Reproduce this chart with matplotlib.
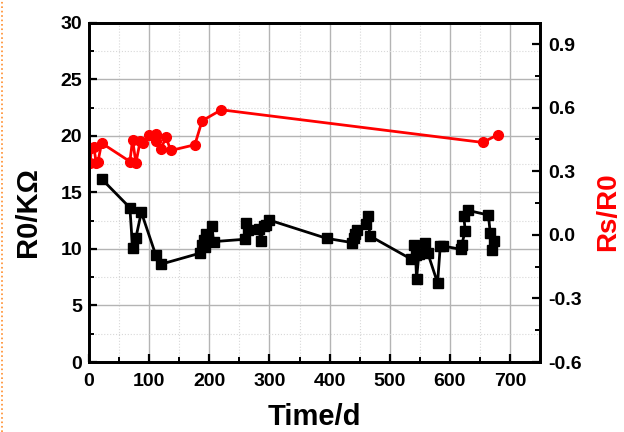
'''
    R0 and Rs/R0 versus time
'''
import matplotlib
matplotlib.use('Agg')
import matplotlib.pyplot as plt
from matplotlib.lines import Line2D
from matplotlib.ticker import MultipleLocator, FormatStrFormatter

# R0 (left axis, black squares)
r0_days = [21, 68, 72.5, 78, 87, 111, 119.5, 184, 188, 190.5, 193, 195, 204.5, 207,
           259, 261.5, 264.5, 282, 286, 290.5, 295, 299, 395, 438, 440.5, 443, 446,
           461, 464, 467, 536, 540, 543, 544.5, 548.5, 559, 563, 579.5, 584, 588,
           618, 619.5, 625.5, 623, 629.5, 664, 667, 672.5, 670]
r0_values = [16.2, 13.65, 10.06, 11.0, 13.25, 9.47, 8.65, 9.62, 10.35, 10.8, 10.15,
             11.33, 12.06, 10.65, 10.86, 12.27, 11.68, 11.74, 10.74, 12.04, 12.12,
             12.57, 10.94, 10.56, 10.94, 11.33, 11.68, 12.18, 12.92, 11.15, 9.09,
             10.35, 9.47, 7.35, 9.56, 10.5, 9.67, 7.0, 10.27, 10.27, 9.97, 10.35,
             11.6, 12.92, 13.42, 13.0, 11.44, 10.74, 9.91]

# Rs/R0 (right axis, red circles)
rs_days = [2, 4, 8, 12, 15, 21, 68, 72.5, 78, 85, 89.5, 99, 111, 111, 119.5, 128,
           136, 176, 188, 220, 654.5, 679.5]
rs_values = [0.34, 0.41, 0.415, 0.34, 0.346, 0.433, 0.346, 0.449, 0.339, 0.441,
             0.433, 0.472, 0.476, 0.441, 0.405, 0.46, 0.398, 0.425, 0.538, 0.59,
             0.436, 0.472]

x_ticks = [0, 100, 200, 300, 400, 500, 600, 700]
rs_ticks = [-0.6, -0.3, 0.0, 0.3, 0.6, 0.9]

plt.rcParams['font.family'] = ['Liberation Sans', 'DejaVu Sans']
plt.rcParams['font.weight'] = 'bold'
plt.rcParams['axes.unicode_minus'] = False


def style_axis(axis):
    '''Thick frame and inward ticks'''
    for spine in axis.spines.values():
        spine.set_linewidth(2)
    axis.tick_params(which='major', direction='in', length=6, width=1.6,
                     labelsize=14)
    axis.tick_params(which='minor', direction='in', length=3.5, width=1.4)


def plotting_graph():
    '''Plotting both series on twin axes'''
    fig = plt.figure(figsize=(6.24, 4.32), dpi=100)
    ax = fig.add_axes([0.1426, 0.162, 0.723, 0.785])
    ax.set_xlim(0, 750)
    ax.set_ylim(0, 30)
    ax.set_xticks(x_ticks)
    ax.xaxis.set_minor_locator(MultipleLocator(50))
    ax.yaxis.set_major_locator(MultipleLocator(5))
    ax.yaxis.set_minor_locator(MultipleLocator(2.5))
    ax.grid(which='major', color='#b4b4b4', lw=1)
    ax.grid(which='minor', color='#d8d8d8', lw=0.8, ls=':')
    ax.set_axisbelow(True)
    ax.plot(r0_days, r0_values, color='black', lw=2, marker='s', ms=6.5,
            zorder=3)
    ax.set_xlabel('Time/d', fontsize=21, fontweight='bold')
    ax.set_ylabel('R0/KΩ', fontsize=21, fontweight='bold')
    ax.xaxis.set_label_coords(0.5, -0.122)
    ax.yaxis.set_label_coords(-0.105, 0.442)
    style_axis(ax)
    ax.tick_params(axis='x', which='major', pad=8)
    ax.tick_params(axis='y', which='major', pad=5)

    ax2 = ax.twinx()
    ax2.set_ylim(-0.6, 1.0)
    ax2.set_yticks(rs_ticks)
    ax2.yaxis.set_minor_locator(MultipleLocator(0.15))
    ax2.yaxis.set_major_formatter(FormatStrFormatter('%.1f'))
    ax2.plot(rs_days, rs_values, color='#ff0000', lw=2, marker='o', ms=7)
    ax2.set_ylabel('Rs/R0', fontsize=20, fontweight='bold', color='#ff0000')
    ax2.yaxis.set_label_coords(1.122, 0.442)
    style_axis(ax2)
    ax2.tick_params(axis='y', which='major', pad=6)
    ax2.tick_params(axis='x', which='both', top=False)

    fig.add_artist(Line2D([0.004, 0.004], [0, 1], color='#ff8c2a', lw=1.2,
                          ls=':', transform=fig.transFigure))
    fig.savefig('out.png', dpi=100)


plotting_graph()
